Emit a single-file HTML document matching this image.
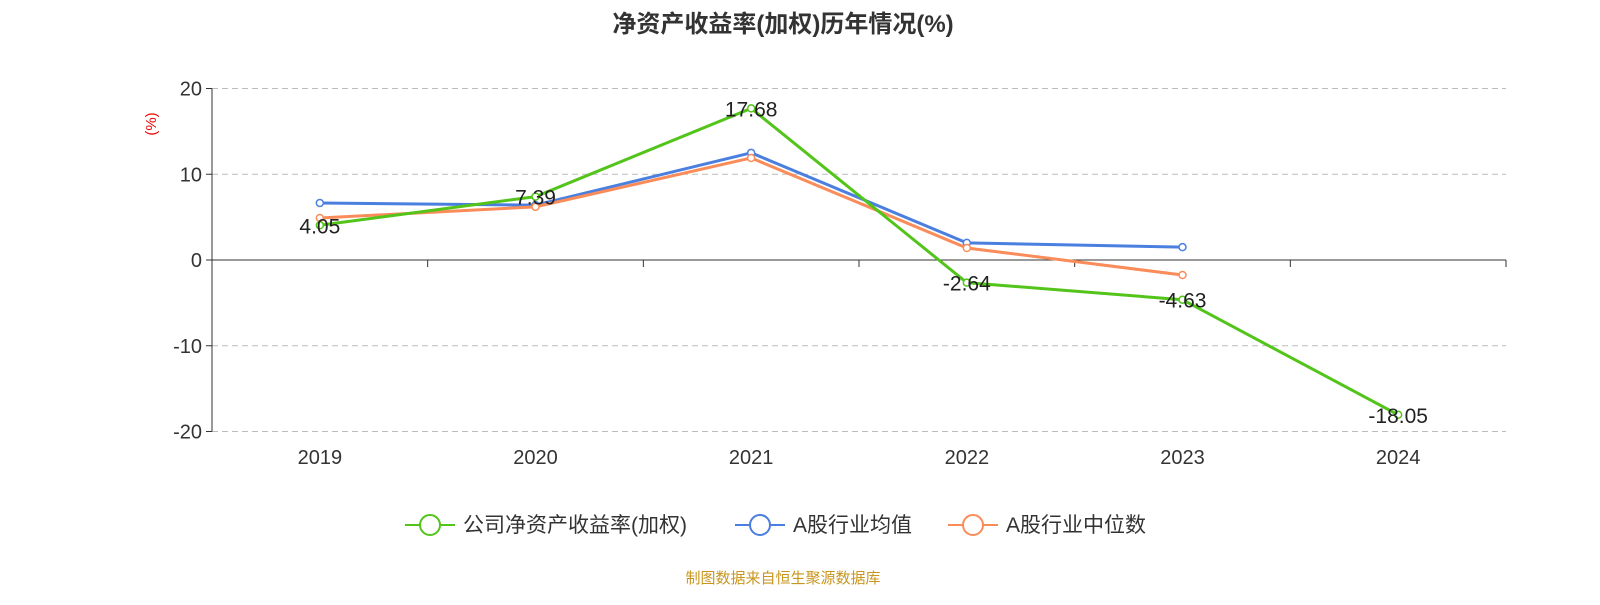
<!DOCTYPE html>
<html><head><meta charset="utf-8"><style>
body{margin:0;background:#fff;}
svg text{font-family:"Liberation Sans","Noto Sans CJK SC",sans-serif;}
</style></head><body>
<svg width="1600" height="600" xmlns="http://www.w3.org/2000/svg">
<text x="783" y="32" text-anchor="middle" font-size="24" font-weight="bold" fill="#333">净资产收益率(加权)历年情况(%)</text>
<text transform="translate(156,124) rotate(-90)" text-anchor="middle" font-size="15" fill="#e00">(%)</text>
<g id="axes"></g>
<g id="series"></g>
<g id="legend"></g>
<text x="783" y="583" text-anchor="middle" font-size="15" fill="#c8961e">制图数据来自恒生聚源数据库</text>
</svg>
<script>
const categories=["2019","2020","2021","2022","2023","2024"];
const companyRoe=[4.05,7.39,17.68,-2.64,-4.63,-18.05];
const industryMean=[6.65,6.4,12.5,2.0,1.5,null];
const industryMedian=[4.9,6.2,11.9,1.4,-1.75,null];
const yTicks=[20,10,0,-10,-20];
const seriesNames=["公司净资产收益率(加权)","A股行业均值","A股行业中位数"];
const NS="http://www.w3.org/2000/svg";
const L=212,R=1506,band=(R-L)/categories.length;
const xs=i=>L+band*(i+0.5);
const ys=v=>260-v*8.575;
function mk(tag,attrs,parent){const e=document.createElementNS(NS,tag);for(const k in attrs)e.setAttribute(k,attrs[k]);parent.appendChild(e);return e;}
const ax=document.getElementById('axes');
yTicks.forEach(t=>{
 if(t!==0){const g=mk('line',{x1:L,x2:R,y1:ys(t),y2:ys(t),stroke:'#bbb','stroke-dasharray':'6,4'},ax);
 
 }
 const tk=mk('line',{x1:L-6,x2:L,y1:ys(t),y2:ys(t),stroke:'#333'},ax);
 
 
 const tx=mk('text',{x:L-10,y:ys(t)+7,'text-anchor':'end','font-size':20,fill:'#333'},ax);tx.textContent=t;
 
 
});
const ya=mk('line',{x1:L,x2:L,y1:ys(20),y2:ys(-20),stroke:'#333'},ax);


const xa=mk('line',{x1:L,x2:R,y1:ys(0),y2:ys(0),stroke:'#333'},ax);


for(let i=0;i<=categories.length;i++){const t=mk('line',{x1:L+band*i,x2:L+band*i,y1:ys(0),y2:ys(0)+7,stroke:'#333'},ax);
 
 }
categories.forEach((c,i)=>{const t=mk('text',{x:xs(i),y:464,'text-anchor':'middle','font-size':20,fill:'#333'},ax);t.textContent=c;
 
 });
const sg=document.getElementById('series');
const colors=["#52c41a","#4a7fe0","#fa8c5a"];
[industryMean,industryMedian,companyRoe].forEach((arr,k)=>{
 const ci=[1,2,0][k];
 const pts=arr.map((v,i)=>v==null?null:[xs(i),ys(v)]).filter(p=>p);
 const pl=mk('polyline',{points:pts.map(p=>p.join(',')).join(' '),fill:'none',stroke:colors[ci],'stroke-width':3},sg);
 
 
 pts.forEach(p=>{const c=mk('circle',{cx:p[0],cy:p[1],r:3.5,fill:'#fff',stroke:colors[ci],'stroke-width':1.5},sg);
  
  });
});
companyRoe.forEach((v,i)=>{const t=mk('text',{x:xs(i),y:ys(v)+8,'text-anchor':'middle','font-size':21,fill:'#222'},sg);t.textContent=v.toFixed(2);
 
 });
const lg=document.getElementById('legend');
const lx=[405,735,948];
seriesNames.forEach((n,k)=>{
 const g=mk('g',{},lg);
 
 
 mk('line',{x1:lx[k],x2:lx[k]+50,y1:525,y2:525,stroke:colors[k],'stroke-width':2},g);
 mk('circle',{cx:lx[k]+25,cy:525,r:10,fill:'#fff',stroke:colors[k],'stroke-width':2},g);
 const t=mk('text',{x:lx[k]+58,y:532,'font-size':21,fill:'#333'},g);t.textContent=n;
});
</script>
</body></html>
